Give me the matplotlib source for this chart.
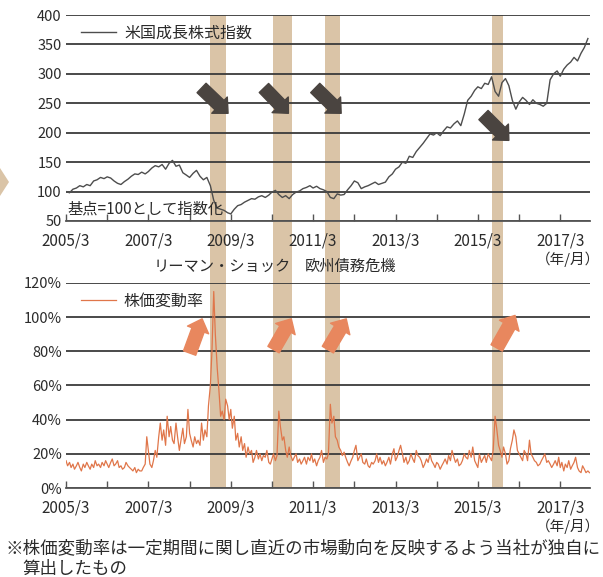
import matplotlib
matplotlib.use('Agg')
from matplotlib import pyplot as plt
import matplotlib.dates as mdates
from matplotlib.patches import Rectangle, Polygon
from matplotlib.transforms import blended_transform_factory
import pandas as pd

plt.rcParams['font.family'] = ['Noto Sans CJK JP', 'DejaVu Sans']
plt.rcParams['text.color'] = '#2b2b2b'
plt.rcParams['xtick.color'] = '#555555'
plt.rcParams['xtick.labelcolor'] = '#2b2b2b'
plt.rcParams['ytick.labelcolor'] = '#2b2b2b'

# monthly index, 2005/3 .. 2017/11 (base = 100)
index_values = [
    100, 98, 104, 106, 110, 108, 112, 110, 118, 120,
    124, 122, 125, 123, 118, 114, 112, 117, 121, 126, 130, 129,
    133, 130, 134, 140, 144, 142, 146, 138, 148, 153, 143, 145,
    132, 128, 124, 131, 136, 126, 120, 124, 110, 85, 72, 70,
    68, 64, 62, 70, 76, 78, 82, 85, 88, 87, 91, 93,
    90, 94, 99, 102, 95, 90, 93, 88, 95, 99, 101, 105,
    107, 110, 106, 109, 105, 103, 100, 90, 88, 96, 94, 95,
    103, 110, 118, 115, 105, 108, 110, 113, 116, 112, 114, 116,
    125, 130, 138, 142, 150, 148, 160, 158, 168, 175, 182, 190,
    198, 196, 200, 195, 203, 210, 208, 215, 220, 212, 232, 255,
    262, 272, 278, 275, 284, 282, 295, 270, 262, 285, 292, 280,
    255, 240, 252, 260, 255, 248, 256, 250, 248, 245, 250, 290,
    300, 305, 296, 308, 315, 320, 328, 322, 335, 345, 360,
]

# semi-monthly volatility (%), 2005/3 .. 2017/11
vol_2005 = [16, 13, 15, 12, 14, 11, 13, 15, 12, 10, 14, 12, 15, 13, 11, 14, 12, 16, 13, 14]
vol_2006 = [12, 15, 13, 16, 14, 12, 15, 17, 13, 14, 16, 12, 13, 11, 12, 15, 13, 12, 11, 10, 12, 9, 11, 10]
vol_2007 = [10, 12, 14, 30, 22, 14, 12, 16, 22, 18, 30, 38, 28, 34, 25, 42, 30, 36, 28, 26, 38, 30, 22, 28]
vol_2008 = [35, 26, 30, 46, 32, 28, 24, 30, 26, 28, 25, 38, 28, 34, 30, 48, 60, 80, 115, 90, 70, 58, 42, 45]
vol_2009 = [40, 52, 48, 40, 46, 35, 42, 28, 32, 24, 30, 22, 26, 18, 24, 20, 22, 15, 18, 22, 17, 20, 16, 19]
vol_2010 = [18, 22, 15, 14, 17, 20, 16, 19, 45, 36, 28, 30, 22, 18, 24, 19, 16, 18, 20, 15, 17, 14, 16, 18]
vol_2011 = [14, 18, 16, 20, 15, 17, 13, 16, 18, 22, 15, 18, 17, 20, 49, 38, 42, 30, 28, 24, 22, 19, 21, 18]
vol_2012 = [15, 13, 16, 18, 22, 25, 16, 18, 20, 15, 14, 17, 13, 12, 15, 14, 16, 20, 15, 18, 14, 16, 13, 15]
vol_2013 = [18, 14, 20, 23, 16, 18, 22, 25, 20, 15, 18, 14, 16, 20, 17, 15, 22, 19, 18, 16, 12, 14, 17, 15]
vol_2014 = [20, 16, 14, 12, 15, 14, 11, 13, 15, 17, 14, 19, 16, 22, 18, 15, 17, 13, 14, 16, 20, 18, 17, 22]
vol_2015 = [18, 24, 16, 14, 12, 20, 15, 17, 19, 15, 20, 18, 16, 22, 42, 35, 25, 22, 18, 24, 20, 14, 16, 23]
vol_2016 = [28, 34, 30, 22, 20, 18, 16, 22, 20, 16, 28, 20, 18, 16, 15, 13, 14, 16, 18, 20, 15, 16, 14, 12]
vol_2017 = [14, 16, 13, 18, 12, 15, 10, 14, 12, 16, 11, 13, 15, 18, 12, 10, 9, 13, 11, 9, 10, 9]
volatility = (vol_2005 + vol_2006 + vol_2007 + vol_2008 + vol_2009 + vol_2010 + vol_2011
              + vol_2012 + vol_2013 + vol_2014 + vol_2015 + vol_2016 + vol_2017)

index_dates = pd.date_range('2005-03-01', periods=len(index_values), freq='MS')
vol_dates = pd.date_range('2005-03-01', periods=len(volatility), freq='SMS')

# shaded crisis periods
bands = [('2008-09-01', '2009-01-20'), ('2010-03-10', '2010-08-30'),
         ('2011-06-15', '2011-10-25'), ('2015-07-01', '2015-10-10')]
# arrows (tail -> head)
down_arrows = [(('2008-06-15', 276), ('2009-02-05', 233)),
               (('2009-12-20', 276), ('2010-07-25', 233)),
               (('2011-03-20', 276), ('2011-11-05', 233)),
               (('2015-04-20', 230), ('2015-12-01', 187))]
up_arrows = [(('2008-03-01', 79), ('2008-06-20', 99)),
             (('2010-03-15', 81), ('2010-08-20', 99)),
             (('2011-07-10', 81), ('2011-12-20', 99)),
             (('2015-08-15', 82), ('2016-01-25', 101))]

year_ticks = pd.date_range('2005-03-01', '2017-03-01', freq='12MS')
year_labels = [f'{d.year}/3' if d.year % 2 == 1 else '' for d in year_ticks]

grid_c = '#3a3a3a'
band_c = '#dac4a7'
arrow_style = 'simple,head_length=0.5,head_width=0.95,tail_width=0.55'

fig = plt.figure(figsize=(6.03, 5.77), dpi=100)
ax1 = fig.add_axes([0.1095, 0.6170, 0.869, 0.3570])
ax2 = fig.add_axes([0.1095, 0.1542, 0.869, 0.3554])

for ax in (ax1, ax2):
    ax.set_facecolor('none')
    for s in ('top', 'right', 'left'):
        ax.spines[s].set_visible(False)
    ax.spines['bottom'].set_color('#555555')
    ax.spines['bottom'].set_linewidth(1.3)
    ax.set_xlim(pd.Timestamp('2005-03-01'), pd.Timestamp('2017-11-20'))
    ax.set_xticks(year_ticks)
    ax.set_xticklabels(year_labels, fontsize=11)
    ax.tick_params(axis='x', direction='in', length=5, width=1.0, pad=8.5)
    ax.tick_params(axis='y', length=0, labelsize=10.5, pad=3)
    ax.yaxis.grid(True, color=grid_c, linewidth=1.3)
    ax.set_axisbelow(True)

ax1.plot(index_dates, index_values, color='#4d4d4d', linewidth=1.0, label='米国成長株式指数')
ax1.set_ylim(50, 400)
ax1.set_yticks(range(50, 401, 50))

ax2.plot(vol_dates, volatility, color='#e0764a', linewidth=0.9, label='株価変動率')
ax2.set_ylim(0, 120)
ax2.set_yticks(range(0, 121, 20))
ax2.set_yticklabels([f'{v}%' for v in range(0, 121, 20)])

for ax in (ax1, ax2):
    ax.legend(loc='upper left', bbox_to_anchor=(0.01, 1.0), frameon=False, fontsize=11.5,
              handlelength=2.2, borderaxespad=0.2, handletextpad=0.5)

ax1.text(0.003, 0.06, '基点=100として指数化', transform=ax1.transAxes, fontsize=11,
         ha='left', va='center')

# crisis bands running through both panels
trans = blended_transform_factory(ax1.transData, fig.transFigure)
y0 = ax2.get_position().y0
y1 = ax1.get_position().y1
for start, end in bands:
    x0 = mdates.date2num(pd.Timestamp(start))
    x1 = mdates.date2num(pd.Timestamp(end))
    fig.patches.append(Rectangle((x0, y0), x1 - x0, y1 - y0, transform=trans,
                                 facecolor=band_c, edgecolor='none', zorder=-1))

for (t0, v0), (t1, v1) in down_arrows:
    ax1.annotate('', xy=(mdates.date2num(pd.Timestamp(t1)), v1),
                 xytext=(mdates.date2num(pd.Timestamp(t0)), v0),
                 arrowprops=dict(arrowstyle=arrow_style, color='#4a4440',
                                 mutation_scale=17, shrinkA=0, shrinkB=0))
for (t0, v0), (t1, v1) in up_arrows:
    ax2.annotate('', xy=(mdates.date2num(pd.Timestamp(t1)), v1),
                 xytext=(mdates.date2num(pd.Timestamp(t0)), v0),
                 arrowprops=dict(arrowstyle=arrow_style, color='#e8875e',
                                 mutation_scale=17, shrinkA=0, shrinkB=0))

fig.text(222 / 603, 1 - 266 / 577, 'リーマン・ショック', fontsize=11, ha='center', va='center')
fig.text(350 / 603, 1 - 266 / 577, '欧州債務危機', fontsize=11, ha='center', va='center')
fig.text(600 / 603, 1 - 259 / 577, '（年/月）', fontsize=10.5, ha='right', va='center')
fig.text(600 / 603, 1 - 526 / 577, '（年/月）', fontsize=10.5, ha='right', va='center')

fig.text(5 / 603, 1 - 548 / 577, '※株価変動率は一定期間に関し直近の市場動向を反映するよう当社が独自に',
         fontsize=12.6, ha='left', va='center')
fig.text(22 / 603, 1 - 569 / 577, '算出したもの', fontsize=12.6, ha='left', va='center')

# arrow fragment at the left edge
fig.patches.append(Polygon([(0, 1 - 168 / 577), (9 / 603, 1 - 182 / 577), (0, 1 - 196 / 577)],
                           closed=True, transform=fig.transFigure, facecolor=band_c,
                           edgecolor='none'))

plt.savefig('out.png', dpi=100)
